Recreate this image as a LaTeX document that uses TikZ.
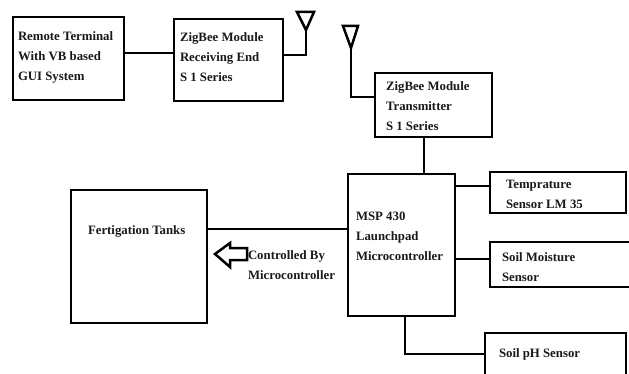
\documentclass[tikz,border=0pt]{standalone}
\usepackage{fontspec}
\setmainfont{Liberation Serif}
\tikzset{
  blk/.style={draw=black,line width=2.8pt,fill=white,inner sep=0pt,outer sep=0pt},
  wire/.style={draw=black,line width=2.8pt,line join=miter},
  ant/.style={draw=black,line width=2.5pt,line join=miter},
  lbl/.style={inner sep=0pt,outer sep=0pt,anchor=west,align=left,font=\fontsize{12.8}{20}\selectfont\bfseries,text=black!90}
}
\newcommand{\blkbox}[5]{\node[blk,minimum width={#4pt-#2pt},minimum height={#5pt-#3pt}] (#1) at ({(#2+#4)/2},{(#3+#5)/2}) {};}
\begin{document}
\begin{tikzpicture}[x=1pt,y=-1pt]
\useasboundingbox (0,0) rectangle (629,374);
\clip (0,0) rectangle (629,374);
\blkbox{remote}{13}{17}{124}{100}
\blkbox{rx}{174}{19}{283}{101}
\blkbox{tx}{375}{73}{492}{137}
\blkbox{mcu}{348}{174}{455}{316}
\blkbox{temp}{490}{172}{626}{213}
\blkbox{moist}{490}{242}{645}{287}
\blkbox{ph}{485}{333}{626}{395}
\blkbox{tanks}{71}{190}{207}{323}
% levels and antenna tips
\coordinate (l1) at (0,53);
\coordinate (l2) at (0,55);
\coordinate (l3) at (0,97);
\coordinate (l4) at (0,186);
\coordinate (l5) at (0,259);
\coordinate (l6) at (0,354);
\coordinate (l7) at (0,229);
\coordinate (x1) at (424,0);
\coordinate (x2) at (405,0);
\coordinate (tipa) at (306,30);
\coordinate (tipb) at (351,48);
% antennas
\draw[ant] (297,12) -- (314,12) -- (tipa) -- cycle;
\draw[ant] (343,26) -- (358,26) -- (tipb) -- cycle;
% connectors
\draw[wire] (remote.east |- l1) -- (rx.west |- l1);
\draw[wire] (rx.east |- l2) -| (tipa);
\draw[wire] (tipb) |- (tx.west |- l3);
\draw[wire] (tx.south -| x1) -- (mcu.north -| x1);
\draw[wire] (mcu.east |- l4) -- (temp.west |- l4);
\draw[wire] (mcu.east |- l5) -- (moist.west |- l5);
\draw[wire] (mcu.south -| x2) |- (ph.west |- l6);
\draw[wire] (tanks.east |- l7) -- (mcu.west |- l7);
% hollow arrow
\draw[ant] (247,248) -- (230,248) -- (230,243) -- (215,254) -- (230,267) -- (230,260) -- (247,260) -- cycle;
% labels
\node[lbl] (tremote) at (18,57) {Remote Terminal\\With VB based\\GUI System};
\node[lbl] (trx) at (180,57) {ZigBee Module\\Receiving End\\S 1 Series};
\node[lbl] (ttx) at (386,106) {ZigBee Module\\Transmitter\\S 1 Series};
\node[lbl] (ttemp) at (506,194) {Temprature\\Sensor LM 35};
\node[lbl] (tmcu) at (356,236) {MSP 430\\Launchpad\\Microcontroller};
\node[lbl] (tmoist) at (502,267) {Soil Moisture\\Sensor};
\node[lbl] (tph) at (499,354) {Soil pH Sensor};
\node[lbl] (ttanks) at (88,231) {Fertigation Tanks};
\node[lbl] (tctl) at (248,265) {Controlled By\\Microcontroller};
\end{tikzpicture}
\end{document}
